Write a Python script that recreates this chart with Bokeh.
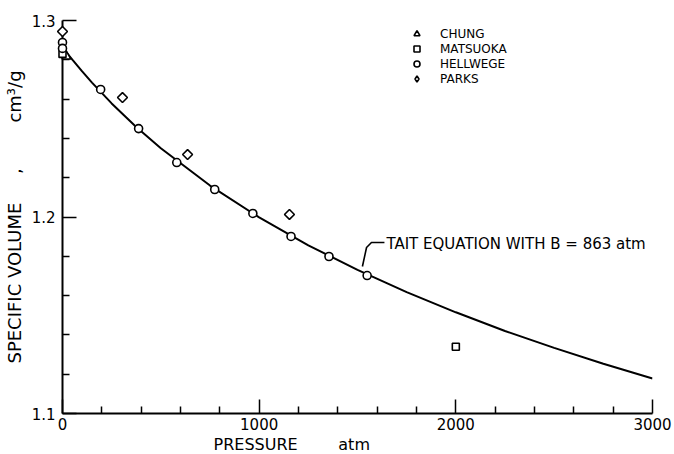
from bokeh.plotting import figure
from bokeh.models import Range1d, FixedTicker, Label, Title
from bokeh.embed import file_html
from bokeh.resources import INLINE
import math

# ---- data ----
tait_p = [0, 25, 50, 100, 150, 250, 375, 500, 750, 1000, 1250, 1500, 1750, 2000, 2250, 2500, 2750, 3000]
tait_v = [1.2864, 1.2832, 1.2801, 1.2741, 1.2684, 1.2578, 1.2458, 1.2350, 1.2160, 1.1998,
          1.1856, 1.1731, 1.1618, 1.1515, 1.1420, 1.1334, 1.1253, 1.1178]

chung_p = [20]
chung_v = [1.2817]

matsuoka_p = [0, 2000]
matsuoka_v = [1.2830, 1.1340]

hellwege_p = [0, 0, 194, 387, 581, 774, 968, 1162, 1355, 1549]
hellwege_v = [1.2888, 1.2858, 1.2649, 1.2450, 1.2277, 1.2140, 1.2018, 1.1901, 1.1799, 1.1702]

parks_p = [0, 305, 636, 1154]
parks_v = [1.2944, 1.2608, 1.2318, 1.2013]

x_major = [0, 1000, 2000, 3000]
x_minor = [200, 400, 600, 800, 1200, 1400, 1600, 1800, 2200, 2400, 2600, 2800]
y_major = [1.1, 1.2, 1.3]
y_minor = [1.12, 1.14, 1.16, 1.18, 1.22, 1.24, 1.26, 1.28]

FONT = "DejaVu Sans"
NB = "\u00a0"

p = figure(frame_width=590, frame_height=393,
           x_range=Range1d(0, 3000), y_range=Range1d(1.1, 1.3),
           min_border_left=62, min_border_top=20, min_border_right=20, min_border_bottom=20,
           output_backend="svg", toolbar_location=None)
p.outline_line_color = None
p.xgrid.visible = False
p.ygrid.visible = False
p.background_fill_color = "white"

for ax in (p.xaxis[0], p.yaxis[0]):
    ax.axis_line_width = 2
    ax.major_tick_line_width = 1.5
    ax.minor_tick_line_width = 1.5
    ax.major_tick_in = 14
    ax.major_tick_out = 0
    ax.minor_tick_in = 7
    ax.minor_tick_out = 0
    ax.major_label_text_font = FONT
    ax.major_label_text_font_size = "15px"
    ax.major_label_text_color = "black"
    ax.axis_label_text_font = FONT
    ax.axis_label_text_font_size = "18px"
    ax.axis_label_text_font_style = "normal"
    ax.axis_label_text_color = "black"

p.xaxis[0].ticker = FixedTicker(ticks=x_major, minor_ticks=x_minor)
p.yaxis[0].ticker = FixedTicker(ticks=y_major, minor_ticks=y_minor)
p.xaxis[0].major_label_standoff = 4
p.yaxis[0].major_label_standoff = 7
p.yaxis[0].axis_label = "SPECIFIC VOLUME" + NB * 5 + "," + NB * 8 + "cm³/g"
p.yaxis[0].axis_label_standoff = 4

# x-axis title, placed left of centre as in the original
xt = Title(text="PRESSURE" + NB * 8 + "atm", align="left", offset=151,
           text_font=FONT, text_font_size="16px", text_font_style="normal",
           text_color="black", standoff=0)
p.add_layout(xt, "below")

# Tait curve
p.line(tait_p, tait_v, line_color="black", line_width=2)

mk = dict(line_color="black", fill_color="white", line_width=1.6, level="overlay")
p.scatter(chung_p, chung_v, marker="triangle", size=9, legend_label="CHUNG", **mk)
p.scatter(matsuoka_p, matsuoka_v, marker="square", size=7, legend_label="MATSUOKA", **mk)
p.scatter(hellwege_p, hellwege_v, marker="circle", size=8, legend_label="HELLWEGE", **mk)
p.scatter(parks_p, parks_v, marker="square", angle=math.pi / 4, size=7, **mk)
# legend proxy for the diamond symbol (not drawn on the plot)
p.scatter(parks_p[:1], parks_v[:1], marker="diamond", size=10, visible=False,
          legend_label="PARKS", **mk)

lg = p.legend[0]
lg.border_line_color = None
lg.background_fill_alpha = 0
lg.padding = 0
lg.margin = 0
lg.spacing = 0
lg.glyph_width = 15
lg.glyph_height = 15
lg.label_height = 15
lg.location = (347, 327)
lg.label_standoff = 16
lg.label_text_font = FONT
lg.label_text_font_size = "12px"
lg.label_text_color = "black"

# annotation: leader and label
lead_x = [1637, 1571, 1546, 1525]
lead_y = [1.1870, 1.1870, 1.1845, 1.1748]
p.line(lead_x, lead_y, line_color="black", line_width=1.6)
p.add_layout(Label(x=1647, y=1.1865, text="TAIT EQUATION WITH B = 863 atm",
                   text_font=FONT, text_font_size="15px", text_baseline="middle",
                   text_color="black"))

open("out.html", "w").write(file_html(p, INLINE))
